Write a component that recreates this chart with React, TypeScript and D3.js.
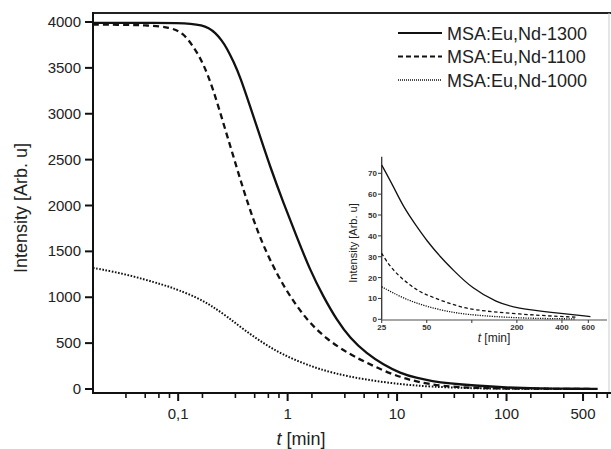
import React from 'react';
import * as d3 from 'd3';

// main plot data, t in min
const t1300 = [1/60, 0.03, 0.06, 0.1, 0.13, 0.164, 0.19, 0.218, 0.25, 0.279, 0.32, 0.368, 0.455, 0.561, 0.692, 0.916, 1.21, 1.6, 2.12, 2.81, 3.72, 5.28, 7.5, 10.7, 15, 21, 30, 50, 100, 200, 350, 680];
const v1300 = [3990, 3990, 3990, 3988, 3982, 3965, 3935, 3884, 3800, 3713, 3570, 3404, 3077, 2750, 2423, 2027, 1660, 1297, 1006, 752, 553, 385, 265, 172, 120, 85, 62, 38, 15, 5, 3, 1.5];

const t1100 = [1/60, 0.03, 0.05, 0.0845, 0.112, 0.138, 0.17, 0.21, 0.259, 0.32, 0.395, 0.487, 0.6, 0.8, 1.05, 1.5, 2.28, 3.72, 5.3, 7.5, 10.7, 15, 25, 50, 100, 200, 600];
const v1100 = [3972, 3970, 3965, 3945, 3877, 3731, 3550, 3259, 2896, 2532, 2169, 1842, 1560, 1250, 1010, 750, 540, 375, 285, 200, 130, 80, 32, 11, 5, 2.5, 1];

const t1000 = [1/60, 0.025, 0.04, 0.06, 0.08, 0.1, 0.15, 0.2, 0.28, 0.4, 0.6, 0.9, 1.5, 2.6, 5.3, 11, 20, 50, 100, 200, 500];
const v1000 = [1320, 1282, 1225, 1165, 1120, 1080, 995, 910, 790, 645, 498, 375, 262, 171, 98, 50, 25, 7, 3, 1.5, 0.8];

// inset data
const it1300 = [25, 30, 34.8, 42.9, 50, 61.4, 75, 100, 147, 200, 351, 620];
const iv1300 = [74, 63.6, 54, 44.4, 37.7, 30, 23.6, 14.9, 8, 5.3, 3.2, 1.3];
const it1100 = [25, 28.4, 34.8, 42.9, 50, 75, 100, 200, 410, 510];
const iv1100 = [31.6, 25.2, 18.8, 14, 11.6, 6.9, 4.5, 2.5, 1.25, 1];
const it1000 = [25, 34.8, 50, 75, 100, 200, 490];
const iv1000 = [15.6, 10, 6, 3.2, 2.1, 0.5, 0.2];

const yTicks = [0, 500, 1000, 1500, 2000, 2500, 3000, 3500, 4000];
const xMajor = [0.1, 1, 10, 100, 500];
const decades = [0.1, 1, 10, 100, 1000];
const insetYTicks = [0, 10, 20, 30, 40, 50, 60, 70];
const insetXTicks = [25, 50, 100, 200, 400, 600];
const insetXLabels = ['25', '50', '', '200', '400', '600'];

const series = [
  { name: 'MSA:Eu,Nd-1300', t: t1300, v: v1300, it: it1300, iv: iv1300, dash: null, idash: null, w: 2.3 },
  { name: 'MSA:Eu,Nd-1100', t: t1100, v: v1100, it: it1100, iv: iv1100, dash: '6,4', idash: '3.5,2.5', w: 2.3 },
  { name: 'MSA:Eu,Nd-1000', t: t1000, v: v1000, it: it1000, iv: iv1000, dash: '1.6,1.6', idash: '1.2,1.2', w: 2 },
];

const font = 'Liberation Sans, Arial, sans-serif';
const ink = '#111';

export default function App() {
  const x = d3.scaleLog().domain([1 / 60, 1000]).range([93, 616]);
  const y = d3.scaleLinear().domain([0, 4000]).range([389, 22]);
  const ix = d3.scaleLog().domain([25, 800]).range([381.7, 607]);
  const iy = d3.scaleLinear().domain([0, 70]).range([319.3, 173.3]);

  const minor: number[] = [];
  decades.forEach(d => {
    for (let k = 1; k <= 5; k++) {
      const v = (d * k) / 6;
      if (v > 1 / 60 && v < 1000 && x(v) < 611) minor.push(v);
    }
  });

  const mainLine = (t: number[], v: number[]) =>
    d3.line<number>().x((_, i) => x(t[i])).y(d => y(d)).curve(d3.curveBasis)(v) || '';
  const insetLine = (t: number[], v: number[]) =>
    d3.line<number>().x((_, i) => ix(t[i])).y(d => iy(d)).curve(d3.curveBasis)(v) || '';

  return (
    <svg width={611} height={449} style={{ position: 'absolute', left: 0, top: 0, background: '#fff' }} fontFamily={font}>
      {/* frame */}
      <line x1={93} x2={611} y1={13} y2={13} stroke="#222" strokeWidth={2} />
      <line x1={609} x2={609} y1={13} y2={393} stroke="#ccc" strokeWidth={1} />
      <line x1={93} x2={93} y1={12} y2={394} stroke={ink} strokeWidth={2} />
      <line x1={92} x2={611} y1={393} y2={393} stroke={ink} strokeWidth={2} />

      {/* y axis */}
      {yTicks.map(v => (
        <g key={v}>
          <line x1={85} x2={93} y1={y(v)} y2={y(v)} stroke={ink} strokeWidth={2} />
          <text x={81} y={y(v) + 5} textAnchor="end" fontSize={15} fill="#222">{v}</text>
        </g>
      ))}
      <text transform="translate(27,208) rotate(-90)" textAnchor="middle" fontSize={18} fill="#222">Intensity [Arb. u]</text>

      {/* x axis */}
      {minor.map(v => (
        <line key={'m' + v} x1={x(v)} x2={x(v)} y1={393} y2={398} stroke={ink} strokeWidth={1.6} />
      ))}
      {xMajor.map(v => (
        <g key={v}>
          <line x1={x(v)} x2={x(v)} y1={393} y2={401} stroke={ink} strokeWidth={2} />
          <text x={x(v)} y={419} textAnchor="middle" fontSize={15} fill="#222">{String(v).replace('.', ',')}</text>
        </g>
      ))}
      <text x={301} y={445} textAnchor="middle" fontSize={18} fill="#222">
        <tspan fontStyle="italic">t</tspan> [min]
      </text>

      {/* main curves */}
      {series.map(s => (
        <path key={s.name} d={mainLine(s.t, s.v)} fill="none" stroke={ink} strokeWidth={s.w}
          strokeDasharray={s.dash || undefined} />
      ))}

      {/* legend */}
      {series.map((s, i) => (
        <g key={'l' + s.name}>
          <line x1={398} x2={442} y1={33 + i * 23.5} y2={33 + i * 23.5} stroke={ink}
            strokeWidth={i === 2 ? 1.5 : 2} strokeDasharray={i === 1 ? '5,3' : i === 2 ? '1,1' : undefined} />
          <text x={447} y={39.5 + i * 23.5} fontSize={18} fill="#222">{s.name}</text>
        </g>
      ))}

      {/* inset */}
      <line x1={381.7} x2={381.7} y1={156.7} y2={320} stroke="#333" strokeWidth={1.3} />
      <line x1={381.7} x2={607} y1={320} y2={320} stroke="#888" strokeWidth={1.3} />
      {insetYTicks.map(v => (
        <g key={'iy' + v}>
          <line x1={378} x2={381.7} y1={iy(v)} y2={iy(v)} stroke="#333" strokeWidth={1} />
          <text x={377} y={iy(v) + 3} textAnchor="end" fontSize={8} fontWeight="bold" fill="#333">{v}</text>
        </g>
      ))}
      {insetXTicks.map((v, i) => (
        <g key={'ix' + v}>
          <line x1={ix(v)} x2={ix(v)} y1={320} y2={323} stroke="#333" strokeWidth={1} />
          <text x={ix(v)} y={330} textAnchor="middle" fontSize={8} fontWeight="bold" fill="#333">{insetXLabels[i]}</text>
        </g>
      ))}
      <text transform="translate(357,243) rotate(-90)" textAnchor="middle" fontSize={11} fill="#222">Intensity [Arb. u]</text>
      <text x={494} y={342} textAnchor="middle" fontSize={12} fill="#222">
        <tspan fontStyle="italic">t</tspan> [min]
      </text>
      {series.map(s => (
        <path key={'i' + s.name} d={insetLine(s.it, s.iv)} fill="none" stroke={ink} strokeWidth={1.3}
          strokeDasharray={s.idash || undefined} />
      ))}
    </svg>
  );
}
